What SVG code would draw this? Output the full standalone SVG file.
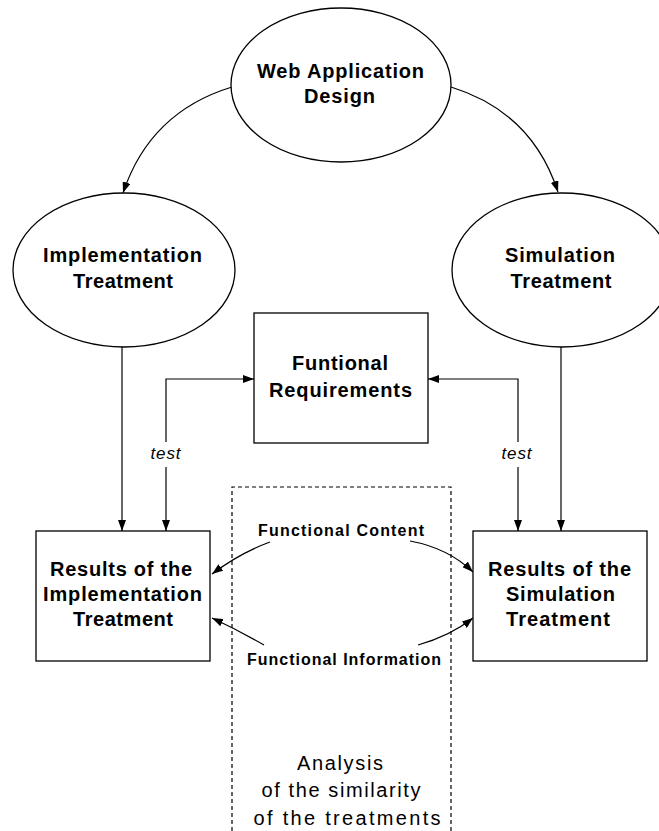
<svg xmlns="http://www.w3.org/2000/svg" width="659" height="831" viewBox="0 0 659 831">
<defs>
<marker id="ah" viewBox="0 0 11 8" refX="11" refY="4" markerWidth="11" markerHeight="8" markerUnits="userSpaceOnUse" orient="auto">
<path d="M0,0 L11,4 L0,8 Z" fill="#000"/>
</marker>
<style>
.shape{fill:#fff;stroke:#000;stroke-width:1.3}
.lbl{font-family:"Liberation Sans",Arial,sans-serif;font-size:20px;font-weight:bold;fill:#000;text-anchor:middle}
.sm{font-family:"Liberation Sans",Arial,sans-serif;font-size:16px;font-weight:bold;fill:#000;text-anchor:middle}
.an{font-family:"Liberation Sans",Arial,sans-serif;font-size:20px;fill:#000;text-anchor:middle}
.tst{font-family:"Liberation Sans",Arial,sans-serif;font-size:17px;font-style:italic;fill:#000;text-anchor:middle}
.ln{fill:none;stroke:#000;stroke-width:1.2}
.arr{fill:none;stroke:#000;stroke-width:1.2;marker-end:url(#ah)}
.dash{fill:none;stroke:#000;stroke-width:1.2;stroke-dasharray:4,3}
</style>
</defs>
<rect width="659" height="831" fill="#fff"/>

<g id="analysis">
<path class="dash" d="M232,831 V487 H451 V831"/>
<text class="an" x="340" y="770" textLength="86" lengthAdjust="spacing">Analysis</text>
<text class="an" x="341" y="797" textLength="159" lengthAdjust="spacing">of the similarity</text>
<text class="an" x="347" y="825" textLength="187" lengthAdjust="spacing">of the treatments</text>
</g>

<g id="connectors">
<path class="arr" d="M232,87 Q150,112 123,193"/>
<path class="arr" d="M451,87 Q532,112 558,192"/>
<path class="arr" d="M122,347 V531"/>
<path class="arr" d="M561,347 V531"/>
<path class="arr" d="M166,442 V379 H254"/>
<path class="arr" d="M166,467 V531"/>
<path class="arr" d="M518,442 V379 H428"/>
<path class="arr" d="M518,467 V531"/>
<text class="tst" x="165.5" y="459" textLength="30" lengthAdjust="spacing">test</text>
<text class="tst" x="516.5" y="459" textLength="30" lengthAdjust="spacing">test</text>
<path class="arr" d="M270,542 Q240,553 212,574"/>
<path class="arr" d="M410,541 Q448,548 473,572"/>
<path class="arr" d="M264,645 Q238,630 212,618"/>
<path class="arr" d="M418,645 Q450,636 473,618"/>
<text class="sm" x="341" y="536" textLength="166" lengthAdjust="spacing">Functional Content</text>
<text class="sm" x="344" y="665" textLength="194" lengthAdjust="spacing">Functional Information</text>
</g>

<g id="web-application-design">
<ellipse class="shape" cx="341" cy="85" rx="110" ry="77"/>
<text class="lbl" x="340.5" y="78" textLength="167" lengthAdjust="spacing">Web Application</text>
<text class="lbl" x="339.5" y="103" textLength="71" lengthAdjust="spacing">Design</text>
</g>

<g id="implementation-treatment">
<ellipse class="shape" cx="124" cy="270" rx="111" ry="77"/>
<text class="lbl" x="122.5" y="262" textLength="159" lengthAdjust="spacing">Implementation</text>
<text class="lbl" x="123" y="288" textLength="100" lengthAdjust="spacing">Treatment</text>
</g>

<g id="simulation-treatment">
<ellipse class="shape" cx="562" cy="270" rx="110" ry="77"/>
<text class="lbl" x="560" y="262" textLength="110" lengthAdjust="spacing">Simulation</text>
<text class="lbl" x="561" y="288" textLength="101" lengthAdjust="spacing">Treatment</text>
</g>

<g id="functional-requirements">
<rect class="shape" x="254" y="313" width="174" height="130"/>
<text class="lbl" x="340" y="370" textLength="96" lengthAdjust="spacing">Funtional</text>
<text class="lbl" x="340.5" y="397" textLength="143" lengthAdjust="spacing">Requirements</text>
</g>

<g id="results-implementation">
<rect class="shape" x="36" y="531" width="174" height="130"/>
<text class="lbl" x="121" y="576" textLength="142" lengthAdjust="spacing">Results of the</text>
<text class="lbl" x="122.5" y="601" textLength="159" lengthAdjust="spacing">Implementation</text>
<text class="lbl" x="123" y="626" textLength="100" lengthAdjust="spacing">Treatment</text>
</g>

<g id="results-simulation">
<rect class="shape" x="473" y="531" width="174" height="130"/>
<text class="lbl" x="559.5" y="576" textLength="143" lengthAdjust="spacing">Results of the</text>
<text class="lbl" x="560.5" y="601" textLength="109" lengthAdjust="spacing">Simulation</text>
<text class="lbl" x="558" y="626" textLength="104" lengthAdjust="spacing">Treatment</text>
</g>
</svg>
